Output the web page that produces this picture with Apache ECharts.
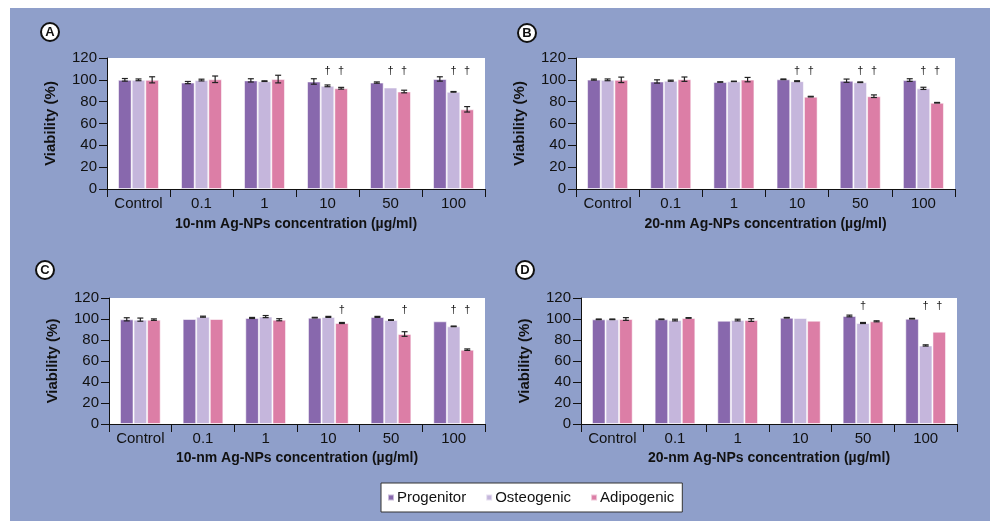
<!DOCTYPE html>
<html>
<head>
<meta charset="utf-8">
<script src="https://cdn.jsdelivr.net/npm/echarts@6/dist/echarts.min.js"></script>
<style>
html,body{margin:0;padding:0;background:#fff;}
#chart{width:990px;height:521px;}
</style>
</head>
<body>
<div id="chart"></div>
<script>
// ---------- data ----------
const categories = ['Control', '0.1', '1', '10', '50', '100'];
const seriesNames = ['Progenitor', 'Osteogenic', 'Adipogenic'];
const yTicks = [0, 20, 40, 60, 80, 100, 120];
const panelLetters = ['A', 'B', 'C', 'D'];
const xTitles = ['10-nm Ag-NPs concentration (µg/ml)', '20-nm Ag-NPs concentration (µg/ml)',
                 '10-nm Ag-NPs concentration (µg/ml)', '20-nm Ag-NPs concentration (µg/ml)'];
const yTitle = 'Viability (%)';

// Panel A
const A_prog = [100, 97.5, 99.5, 98.5, 97.5, 100.8];
const A_prog_err = [1.2, 1, 1.5, 2.5, 0.6, 2];
const A_osteo = [100, 99.8, 98.8, 94.5, 93, 89];
const A_osteo_err = [0.8, 0.8, 0.3, 0.8, 0, 0.3];
const A_adipo = [100, 100.5, 100.7, 92.3, 89.3, 73];
const A_adipo_err = [2.8, 3, 3.5, 0.8, 1.2, 2.5];
const A_dagger = [[3, 1], [3, 2], [4, 1], [4, 2], [5, 1], [5, 2]];

// Panel B
const B_prog = [100.2, 98.5, 98, 100.5, 99.2, 99.8];
const B_prog_err = [0.5, 1.5, 0.2, 0.3, 1.5, 1.2];
const B_osteo = [100, 99.2, 98.6, 98.8, 97.8, 92.2];
const B_osteo_err = [0.8, 0.5, 0.2, 0.4, 0.3, 1];
const B_adipo = [100, 100.6, 100.2, 84.6, 85, 79];
const B_adipo_err = [2.5, 2, 2, 0.3, 1.2, 0.3];
const B_dagger = [[3, 1], [3, 2], [4, 1], [4, 2], [5, 1], [5, 2]];

// Panel C
const C_prog = [99.7, 100, 101, 101.3, 102, 97.8];
const C_prog_err = [1.5, 0, 0.5, 0.3, 0.5, 0];
const C_osteo = [99.4, 102.2, 102.3, 102, 99, 93];
const C_osteo_err = [1.5, 0.5, 1, 0.5, 0.3, 0.3];
const C_adipo = [99.4, 100, 99.3, 96.2, 85.7, 70.8];
const C_adipo_err = [0.7, 0, 1, 0.5, 2.2, 0.7];
const C_dagger = [[3, 2], [4, 2], [5, 1], [5, 2]];

// Panel D
const D_prog = [99.7, 99.7, 98.4, 101.2, 102.9, 100.3];
const D_prog_err = [0.3, 0.3, 0, 0.3, 0.8, 0.3];
const D_osteo = [99.7, 99, 99, 101, 96.2, 74.8];
const D_osteo_err = [0.3, 0.8, 0.8, 0, 0.5, 0.6];
const D_adipo = [100, 101, 99, 98.4, 97.8, 87.9];
const D_adipo_err = [1.3, 0.3, 1.3, 0, 0.5, 0];
const D_dagger = [[4, 1], [5, 1], [5, 2]];

// dagger height (in axis units) per panel
const daggerLevel = [107.8, 108.5, 108.5, 112];

// ---------- styling / layout ----------
const colors = ['#8868ad', '#c5b6dc', '#dc7ea6'];
const bg = '#8f9fca';
const FONT = 'Liberation Sans, Arial, sans-serif';
const catGap = 0.35;

const panels = [
  {vals: [A_prog, A_osteo, A_adipo], errs: [A_prog_err, A_osteo_err, A_adipo_err], dag: A_dagger},
  {vals: [B_prog, B_osteo, B_adipo], errs: [B_prog_err, B_osteo_err, B_adipo_err], dag: B_dagger},
  {vals: [C_prog, C_osteo, C_adipo], errs: [C_prog_err, C_osteo_err, C_adipo_err], dag: C_dagger},
  {vals: [D_prog, D_osteo, D_adipo], errs: [D_prog_err, D_osteo_err, D_adipo_err], dag: D_dagger}
];

const grids = [
  {left: 107, top: 58, width: 378, height: 131},
  {left: 576, top: 58, width: 379, height: 131},
  {left: 109, top: 298, width: 376, height: 126},
  {left: 581, top: 298, width: 376, height: 126}
];
const letterPos = [[50, 32], [527, 33], [45, 270], [525, 270]];
const xNameGap = [28, 28, 27, 27];

function barX(api, cat, s) {
  const band = api.size([1, 0])[0];
  const gw = band * (1 - catGap);
  const bw = gw / 3;
  return api.coord([cat, 0])[0] - gw / 2 + bw * (s + 0.5);
}

const option = {
  animation: false,
  backgroundColor: '#fff',
  textStyle: {fontFamily: FONT},
  graphic: [],
  legend: {
    data: seriesNames,
    left: 381, top: 483,
    padding: [7, 8, 7, 6],
    itemGap: 19,
    itemWidth: 6, itemHeight: 6,
    icon: 'rect',
    backgroundColor: '#fff',
    borderColor: '#333', borderWidth: 1,
    textStyle: {fontSize: 15, color: '#111', fontFamily: FONT, padding: [0, 0, 0, -2]}
  },
  grid: [], xAxis: [], yAxis: [], series: []
};

option.graphic.push({
  type: 'rect', z: -10, silent: true,
  shape: {x: 10, y: 8, width: 980, height: 513},
  style: {fill: bg}
});

panelLetters.forEach((L, i) => {
  option.graphic.push({
    type: 'group', left: letterPos[i][0] - 10, top: letterPos[i][1] - 10,
    children: [
      {type: 'circle', shape: {cx: 10, cy: 10, r: 9}, style: {fill: '#fff', stroke: '#111', lineWidth: 2}},
      {type: 'text', x: 10, y: 10.5, style: {text: L, fill: '#111', font: 'bold 13px ' + FONT, align: 'center', verticalAlign: 'middle'}}
    ]
  });
});

panels.forEach((p, i) => {
  option.grid.push(Object.assign({show: true, backgroundColor: '#fff', borderWidth: 0, containLabel: false}, grids[i]));
  option.xAxis.push({
    type: 'category', gridIndex: i, data: categories,
    axisLine: {lineStyle: {color: '#111', width: 1}},
    axisTick: {show: true, length: 8, lineStyle: {color: '#111'}},
    axisLabel: {fontSize: 15, color: '#111', margin: 7, fontFamily: FONT, interval: 0},
    name: xTitles[i], nameLocation: 'middle', nameGap: xNameGap[i],
    nameTextStyle: {fontSize: 14, fontWeight: 'bold', color: '#111', fontFamily: FONT}
  });
  option.yAxis.push({
    type: 'value', gridIndex: i, min: yTicks[0], max: yTicks[yTicks.length - 1], interval: 20,
    axisLine: {show: true, lineStyle: {color: '#111', width: 1}},
    axisTick: {show: true, length: 8, lineStyle: {color: '#111'}},
    axisLabel: {fontSize: 15, color: '#111', margin: 10, fontFamily: FONT},
    splitLine: {show: false},
    name: yTitle, nameLocation: 'middle', nameGap: 49,
    nameTextStyle: {fontSize: 15, fontWeight: 'bold', color: '#111', fontFamily: FONT}
  });
  seriesNames.forEach((nm, s) => {
    option.series.push({
      type: 'bar', name: nm, xAxisIndex: i, yAxisIndex: i,
      data: p.vals[s], barGap: '0%', barCategoryGap: (catGap * 100) + '%',
      itemStyle: {color: colors[s], borderColor: 'rgba(255,255,255,0.55)', borderWidth: 1}
    });
  });
  // error bars
  const errData = [];
  p.vals.forEach((arr, s) => arr.forEach((v, c) => errData.push([c, s, v, p.errs[s][c]])));
  option.series.push({
    type: 'custom', xAxisIndex: i, yAxisIndex: i, z: 5, silent: true, clip: false,
    encode: {x: 0, y: 2},
    data: errData,
    renderItem: function (params, api) {
      const c = api.value(0), s = api.value(1), v = api.value(2), e = api.value(3);
      if (!(e > 0)) return null;
      const x = barX(api, c, s);
      const yT = api.coord([c, v + e])[1], yB = api.coord([c, v - e])[1];
      const cap = 3;
      const st = {stroke: '#222', lineWidth: 1.2};
      return {type: 'group', children: [
        {type: 'line', shape: {x1: x, y1: yT, x2: x, y2: yB}, style: st},
        {type: 'line', shape: {x1: x - cap, y1: yT, x2: x + cap, y2: yT}, style: st},
        {type: 'line', shape: {x1: x - cap, y1: yB, x2: x + cap, y2: yB}, style: st}
      ]};
    }
  });
  // daggers
  const lvl = daggerLevel[i];
  option.series.push({
    type: 'custom', xAxisIndex: i, yAxisIndex: i, z: 5, silent: true, clip: false,
    encode: {x: 0, y: 1},
    data: p.dag,
    renderItem: function (params, api) {
      const c = api.value(0), s = api.value(1);
      const x = barX(api, c, s);
      const y = api.coord([c, lvl])[1];
      return {type: 'text', x: x, y: y, style: {text: '†', fill: '#222', font: '11px ' + FONT, align: 'center', verticalAlign: 'middle'}};
    }
  });
});

const chart = echarts.init(document.getElementById('chart'), null, {renderer: 'canvas'});
chart.setOption(option);
</script>
</body>
</html>
